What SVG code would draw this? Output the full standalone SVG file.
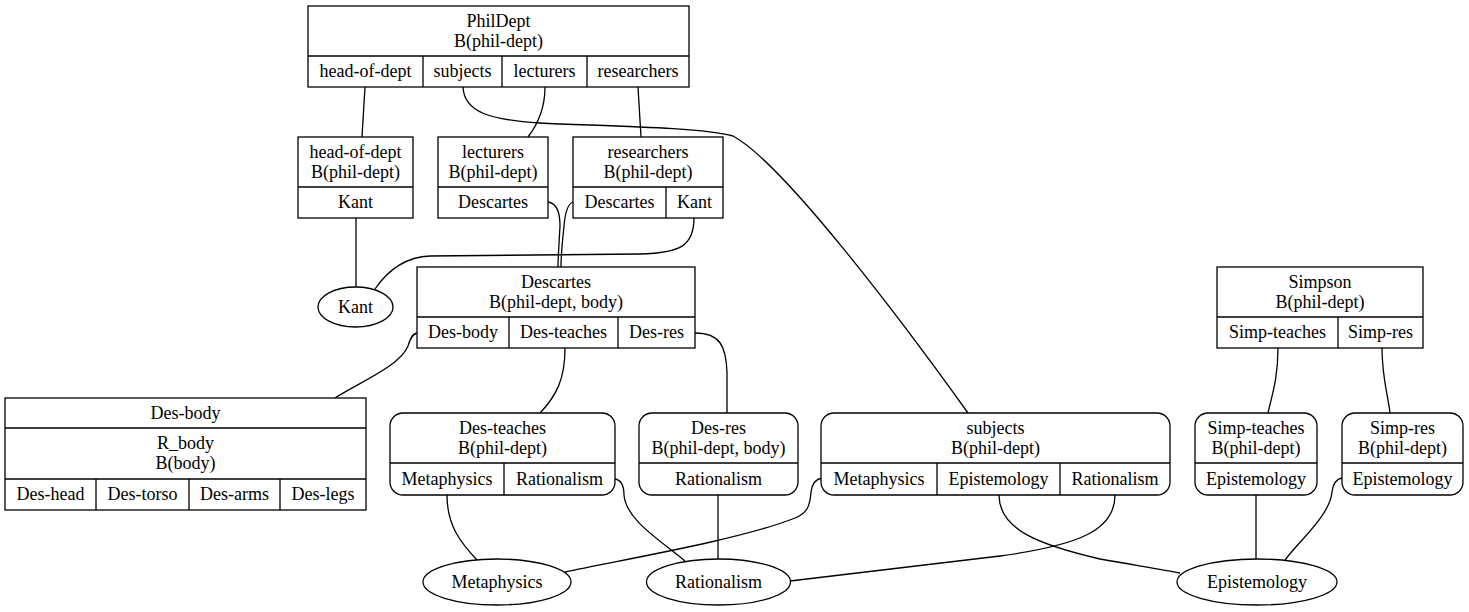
<svg xmlns="http://www.w3.org/2000/svg" width="1469" height="612" viewBox="0 0 1469 612">
<style>
.s{fill:none;stroke:#000;stroke-width:1.3}
.b{fill:#fff;stroke:#000;stroke-width:1.3}
text{font-family:"Liberation Serif","Times New Roman",serif;font-size:18px;fill:#000;text-anchor:middle}
</style>
<rect width="1469" height="612" fill="#fff"/>
<g id="edges" class="s">
<path d="M365,87 L362,137"/>
<path d="M463,87 C464,112 490,120 540,123 C600,126 700,127 733,136 C782,162 900,318 968,413"/>
<path d="M545,87 C545,108 538,124 528,137"/>
<path d="M638,87 L641,137"/>
<path d="M356,218 L356,287"/>
<path d="M548,202 C556,203 560,212 560,226 C559,245 558,258 558,267"/>
<path d="M573,202 C567,204 565,214 564,226 C562,245 561,258 561,267"/>
<path d="M694,218 C694,246 680,253 640,254 L430,256 C405,257 388,270 375,289"/>
<path d="M417,333 C412,334 410,339 408,346 C400,366 360,382 335,398"/>
<path d="M565,348 C565,380 556,396 540,413"/>
<path d="M695,333 C720,333 726,346 727,372 L727,413"/>
<path d="M1278,348 C1278,378 1272,395 1268,413"/>
<path d="M1382,348 C1382,378 1388,395 1390,413"/>
<path d="M447,495 C447,525 460,542 477,560"/>
<path d="M615,479 C621,480 624,486 624,495 C626,520 660,540 685,561"/>
<path d="M718,495 L718,559"/>
<path d="M822,478 C816,479 812,484 811,492 C810,505 808,513 795,518 C740,540 620,560 565,572"/>
<path d="M999,495 C999,530 1040,545 1100,559 C1140,566 1165,570 1180,573"/>
<path d="M1115,495 C1115,530 1080,545 1000,556 C900,568 840,575 790,581"/>
<path d="M1256,495 L1256,559"/>
<path d="M1342,478 C1336,479 1333,484 1332,492 C1330,515 1300,540 1285,560"/>
</g>
<g id="PhilDept">
<rect class="b" x="308" y="6" width="381" height="81"/>
<path class="s" d="M308,56 H689 M423,56 V87 M502,56 V87 M587,56 V87"/>
<text x="498.5" y="27">PhilDept</text>
<text x="498.5" y="47">B(phil-dept)</text>
<text x="365.5" y="77">head-of-dept</text>
<text x="462.5" y="77">subjects</text>
<text x="544.5" y="77">lecturers</text>
<text x="638" y="77">researchers</text>
</g>
<g id="head-of-dept">
<rect class="b" x="298" y="137" width="115" height="81"/>
<path class="s" d="M298,187 H413"/>
<text x="355.5" y="158">head-of-dept</text>
<text x="355.5" y="178">B(phil-dept)</text>
<text x="355.5" y="208">Kant</text>
</g>
<g id="lecturers">
<rect class="b" x="438" y="137" width="110" height="81"/>
<path class="s" d="M438,187 H548"/>
<text x="493" y="158">lecturers</text>
<text x="493" y="178">B(phil-dept)</text>
<text x="493" y="208">Descartes</text>
</g>
<g id="researchers">
<rect class="b" x="573" y="137" width="150" height="81"/>
<path class="s" d="M573,187 H723 M666,187 V218"/>
<text x="648" y="158">researchers</text>
<text x="648" y="178">B(phil-dept)</text>
<text x="619.5" y="208">Descartes</text>
<text x="694.5" y="208">Kant</text>
</g>
<g id="Kant">
<ellipse class="b" cx="355.5" cy="307" rx="37.5" ry="20"/>
<text x="355.5" y="313">Kant</text>
</g>
<g id="Descartes">
<rect class="b" x="417" y="267" width="278" height="81"/>
<path class="s" d="M417,317 H695 M509,317 V348 M618,317 V348"/>
<text x="556" y="288">Descartes</text>
<text x="556" y="308">B(phil-dept, body)</text>
<text x="463" y="338">Des-body</text>
<text x="563.5" y="338">Des-teaches</text>
<text x="656.5" y="338">Des-res</text>
</g>
<g id="Simpson">
<rect class="b" x="1217" y="267" width="206" height="81"/>
<path class="s" d="M1217,317 H1423 M1338,317 V348"/>
<text x="1320" y="288">Simpson</text>
<text x="1320" y="308">B(phil-dept)</text>
<text x="1277.5" y="338">Simp-teaches</text>
<text x="1380.5" y="338">Simp-res</text>
</g>
<g id="Des-body">
<rect class="b" x="5" y="398" width="361" height="112"/>
<path class="s" d="M5,428 H366 M5,479 H366 M96,479 V510 M189,479 V510 M280,479 V510"/>
<text x="185.5" y="419">Des-body</text>
<text x="185.5" y="449">R_body</text>
<text x="185.5" y="469">B(body)</text>
<text x="50.5" y="500">Des-head</text>
<text x="142.5" y="500">Des-torso</text>
<text x="234.5" y="500">Des-arms</text>
<text x="323" y="500">Des-legs</text>
</g>
<g id="Des-teaches">
<rect class="b" x="390" y="413" width="225" height="82" rx="13"/>
<path class="s" d="M390,463 H615 M504,463 V495"/>
<text x="502.5" y="434">Des-teaches</text>
<text x="502.5" y="454">B(phil-dept)</text>
<text x="447" y="484.5">Metaphysics</text>
<text x="559.5" y="484.5">Rationalism</text>
</g>
<g id="Des-res">
<rect class="b" x="639" y="413" width="159" height="82" rx="13"/>
<path class="s" d="M639,463 H798"/>
<text x="718.5" y="434">Des-res</text>
<text x="718.5" y="454">B(phil-dept, body)</text>
<text x="718.5" y="484.5">Rationalism</text>
</g>
<g id="subjects">
<rect class="b" x="821" y="413" width="349" height="82" rx="13"/>
<path class="s" d="M821,463 H1170 M937,463 V495 M1060,463 V495"/>
<text x="995.5" y="434">subjects</text>
<text x="995.5" y="454">B(phil-dept)</text>
<text x="879" y="484.5">Metaphysics</text>
<text x="998.5" y="484.5">Epistemology</text>
<text x="1115" y="484.5">Rationalism</text>
</g>
<g id="Simp-teaches">
<rect class="b" x="1195" y="413" width="122" height="82" rx="13"/>
<path class="s" d="M1195,463 H1317"/>
<text x="1256" y="434">Simp-teaches</text>
<text x="1256" y="454">B(phil-dept)</text>
<text x="1256" y="484.5">Epistemology</text>
</g>
<g id="Simp-res">
<rect class="b" x="1342" y="413" width="121" height="82" rx="13"/>
<path class="s" d="M1342,463 H1463"/>
<text x="1402.5" y="434">Simp-res</text>
<text x="1402.5" y="454">B(phil-dept)</text>
<text x="1402.5" y="484.5">Epistemology</text>
</g>
<g id="Metaphysics">
<ellipse class="b" cx="497" cy="582" rx="74" ry="23"/>
<text x="497" y="588">Metaphysics</text>
</g>
<g id="Rationalism">
<ellipse class="b" cx="718.5" cy="582" rx="72" ry="23"/>
<text x="718.5" y="588">Rationalism</text>
</g>
<g id="Epistemology">
<ellipse class="b" cx="1257" cy="582" rx="80" ry="23"/>
<text x="1257" y="588">Epistemology</text>
</g>
</svg>
